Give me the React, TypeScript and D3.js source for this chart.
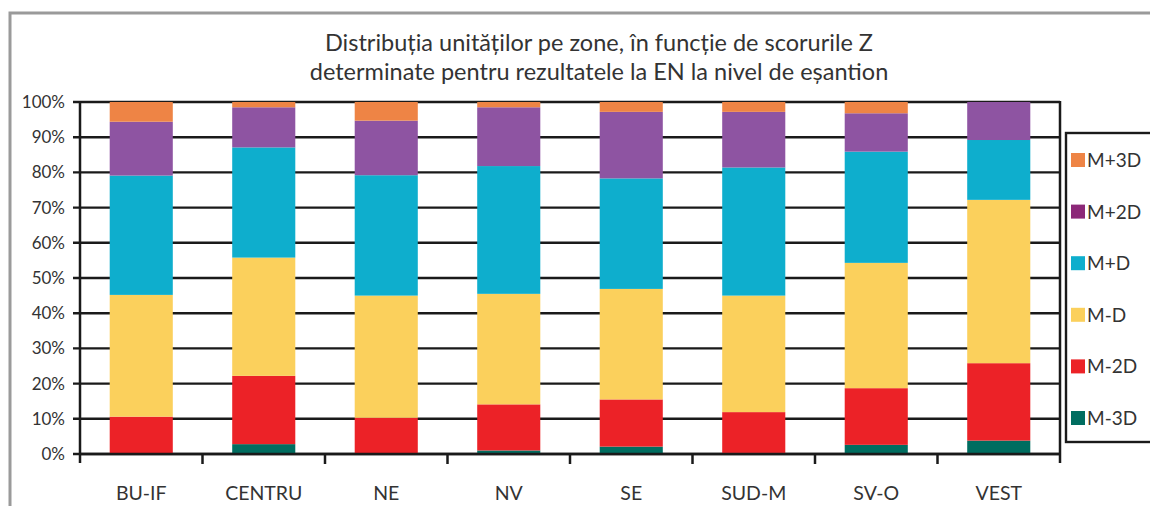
import React from "react";
import * as d3 from "d3";

const categories = ["BU-IF", "CENTRU", "NE", "NV", "SE", "SUD-M", "SV-O", "VEST"];
const seriesKeys = ["M-3D", "M-2D", "M-D", "M+D", "M+2D", "M+3D"];
const m3D = [0, 2.8, 0, 1.0, 2.1, 0.3, 2.6, 3.8];
const m2D = [10.6, 19.4, 10.3, 13.1, 13.4, 11.6, 16.1, 22.0];
const mD = [34.6, 33.6, 34.7, 31.4, 31.4, 33.1, 35.6, 46.4];
const pD = [33.9, 31.3, 34.2, 36.3, 31.4, 36.4, 31.6, 17.0];
const p2D = [15.3, 11.4, 15.5, 16.7, 18.9, 15.8, 10.9, 10.8];
const p3D = [5.6, 1.5, 5.3, 1.5, 2.8, 2.8, 3.2, 0];
const yTicks = [0, 10, 20, 30, 40, 50, 60, 70, 80, 90, 100];
const titleLines = [
  "Distribuția unităților pe zone, în funcție de scorurile Z",
  "determinate pentru rezultatele la EN la nivel de eșantion",
];

const barColors: Record<string, string> = {
  "M-3D": "#006d60",
  "M-2D": "#ec2227",
  "M-D": "#fbd05c",
  "M+D": "#0eaecd",
  "M+2D": "#8e54a2",
  "M+3D": "#ee8445",
};
const legendColors: Record<string, string> = {
  ...barColors,
  "M+2D": "#8c2878",
};

const FONT = "Lato, 'Open Sans', sans-serif";

export default function App() {
  const W = 1150, H = 506;
  const x0 = 80, x1 = 1060, yBottom = 454, yTop = 102;
  const rows = categories.map((c, i) => ({
    cat: c,
    "M-3D": m3D[i], "M-2D": m2D[i], "M-D": mD[i], "M+D": pD[i], "M+2D": p2D[i], "M+3D": p3D[i],
  }));
  const stacked = d3.stack<any>().keys(seriesKeys)(rows);
  const x = d3.scaleBand().domain(categories).range([x0, x1]).paddingInner(0.485).paddingOuter(0.2425);
  const y = d3.scaleLinear().domain([0, 100]).range([yBottom, yTop]);
  const step = x.step();
  const legendOrder = [...seriesKeys].reverse();
  const ly = d3.scalePoint().domain(legendOrder).range([160, 418]);

  return (
    <svg width={W} height={H} style={{ position: "absolute", left: 0, top: 0, background: "#fff" }} fontFamily={FONT}>
      {/* outer frame */}
      <rect x={10} y={13} width={W + 20} height={H + 20} fill="none" stroke="#9a9a9a" strokeWidth={3} />
      {/* title */}
      {titleLines.map((t, i) => (
        <text key={i} x={599} y={51 + i * 29} textAnchor="middle" fontSize={23.5} fill="#333">{t}</text>
      ))}
      {/* gridlines */}
      {yTicks.map((t) => (
        <line key={t} x1={x0 - 7} x2={x1} y1={y(t)} y2={y(t)} stroke="#1a1a1a" strokeWidth={2.4} />
      ))}
      {yTicks.map((t) => (
        <text key={"l" + t} x={65} y={y(t) + 6} textAnchor="end" fontSize={17} fill="#333">{t}%</text>
      ))}
      {/* bars */}
      {stacked.map((s) => (
        <g key={s.key} fill={barColors[s.key]}>
          {s.map((d: any, i: number) => (
            d[1] - d[0] > 0 ? (
              <rect key={i} x={x(categories[i])!} width={x.bandwidth()} y={y(d[1])} height={y(d[0]) - y(d[1])} />
            ) : null
          ))}
        </g>
      ))}
      {/* axes */}
      <line x1={x0} x2={x0} y1={yTop - 1} y2={yBottom + 9} stroke="#1a1a1a" strokeWidth={2.5} />
      <line x1={x1} x2={x1} y1={yTop - 1} y2={yBottom + 9} stroke="#1a1a1a" strokeWidth={2.5} />
      <line x1={x0} x2={x1} y1={yBottom} y2={yBottom} stroke="#1a1a1a" strokeWidth={2.5} />
      {categories.slice(1).map((c) => (
        <line key={c} x1={x(c)! - (step - x.bandwidth()) / 2} x2={x(c)! - (step - x.bandwidth()) / 2} y1={yBottom} y2={yBottom + 10} stroke="#1a1a1a" strokeWidth={2.5} />
      ))}
      {categories.map((c) => (
        <text key={c} x={x(c)! + x.bandwidth() / 2} y={500} textAnchor="middle" fontSize={19.5} fill="#333">{c}</text>
      ))}
      {/* legend */}
      <rect x={1066} y={133} width={120} height={309} fill="#fff" stroke="#1a1a1a" strokeWidth={2.4} />
      {legendOrder.map((k) => (
        <g key={k} transform={`translate(1071,${ly(k)})`}>
          <rect x={0} y={-7} width={14} height={14} fill={legendColors[k]} />
          <text x={16} y={7} fontSize={19} fill="#333">{k}</text>
        </g>
      ))}
    </svg>
  );
}
